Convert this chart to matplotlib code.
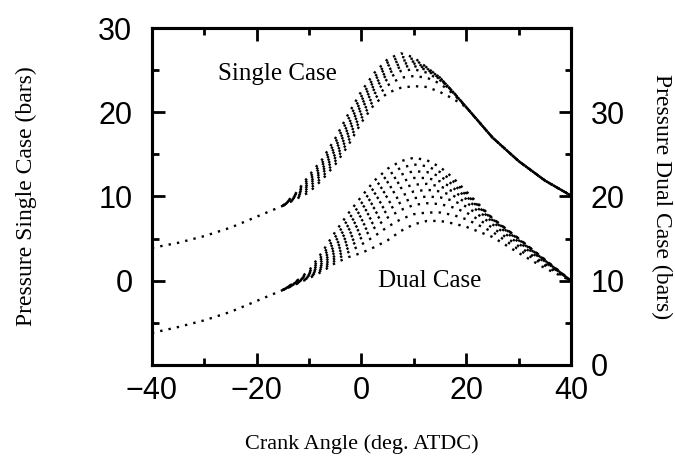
import matplotlib
matplotlib.use("Agg")
import matplotlib.pyplot as plt
from matplotlib.ticker import MultipleLocator

# crank angle grids (deg ATDC)
x_head = [-40, -35, -30, -25, -20, -15]
x_mid = [-12.5, -10, -7.5, -5, -2.5, 0, 2.5, 5, 7.5, 10, 12.5, 15, 17.5]
x_tail = [20, 25, 30, 35, 40]

# single case (left axis), shared compression part and shared expansion part
single_head = [3.9, 4.5, 5.3, 6.3, 7.6, 8.9]
single_tail = [20.6, 17.0, 14.2, 11.9, 10.1]
single_mid = [
    [10.4, 12.5, 14.4, 16.9, 19.8, 22.5, 24.7, 26.3, 27.0, 26.5, 25.3, 24.1, 22.4],
    [10.3, 12.2, 14.0, 16.4, 19.2, 21.9, 24.2, 25.9, 26.6, 26.3, 25.3, 24.1, 22.4],
    [10.2, 11.9, 13.7, 15.9, 18.6, 21.4, 23.8, 25.5, 26.2, 26.0, 25.2, 24.1, 22.4],
    [10.1, 11.6, 13.3, 15.5, 18.1, 20.9, 23.3, 25.0, 25.8, 25.8, 25.1, 24.0, 22.4],
    [10.0, 11.4, 13.0, 15.0, 17.6, 20.4, 22.8, 24.6, 25.4, 25.5, 25.0, 23.9, 22.4],
    [9.9, 11.1, 12.7, 14.6, 17.1, 19.8, 22.2, 24.0, 24.9, 25.1, 24.7, 23.8, 22.3],
    [9.8, 10.8, 12.3, 14.2, 16.6, 19.3, 21.6, 23.2, 24.1, 24.3, 24.1, 23.4, 22.2],
    [9.7, 10.5, 12.0, 13.8, 16.1, 18.8, 21.0, 22.3, 22.9, 23.1, 23.0, 22.4, 21.6],
]

# dual case (right axis)
dual_head = [3.8, 4.5, 5.3, 6.3, 7.6, 8.9]
dual_rest = [
    [9.9, 11.2, 13.4, 15.8, 18.0, 20.0, 21.9, 23.3, 24.2, 24.6, 24.3, 23.5, 22.2, 20.6, 17.4, 15.0, 12.5, 10.0],
    [9.9, 11.0, 13.0, 15.2, 17.3, 19.2, 21.1, 22.5, 23.4, 23.8, 23.6, 22.9, 21.8, 20.4, 17.4, 15.0, 12.5, 10.0],
    [9.8, 10.9, 12.7, 14.7, 16.6, 18.5, 20.3, 21.7, 22.6, 23.0, 22.9, 22.4, 21.4, 20.2, 17.4, 15.0, 12.5, 10.0],
    [9.8, 10.8, 12.4, 14.2, 16.0, 17.8, 19.5, 20.9, 21.8, 22.2, 22.2, 21.8, 21.0, 20.0, 17.3, 14.9, 12.4, 10.0],
    [9.8, 10.7, 12.1, 13.8, 15.4, 17.1, 18.7, 20.1, 21.0, 21.4, 21.5, 21.2, 20.6, 19.7, 17.2, 14.8, 12.4, 10.0],
    [9.7, 10.6, 11.9, 13.4, 14.9, 16.4, 17.9, 19.2, 20.1, 20.6, 20.8, 20.6, 20.1, 19.3, 17.0, 14.6, 12.3, 10.0],
    [9.7, 10.5, 11.7, 13.0, 14.4, 15.7, 17.1, 18.4, 19.3, 19.8, 20.0, 19.9, 19.5, 18.8, 16.7, 14.4, 12.2, 10.0],
    [9.7, 10.4, 11.5, 12.7, 13.9, 15.1, 16.3, 17.5, 18.4, 19.0, 19.2, 19.1, 18.7, 18.1, 16.3, 14.1, 12.0, 10.0],
    [9.6, 10.4, 11.3, 12.4, 13.4, 14.3, 15.3, 16.4, 17.3, 17.9, 18.1, 18.1, 17.8, 17.3, 15.8, 13.7, 11.8, 10.0],
    [9.6, 10.3, 11.1, 12.1, 12.8, 13.3, 14.0, 14.8, 15.9, 16.7, 17.1, 17.1, 16.8, 16.4, 15.2, 13.3, 11.5, 10.0],
]

tick_font = {"family": "Liberation Sans", "size": 22}
lab_font = {"family": "Liberation Serif", "size": 16}
ylab_font = {"family": "Liberation Serif", "size": 17}
note_font = {"family": "Liberation Serif", "size": 18}
LW = 1.7


def dotted(k):
    # each run gets its own dot phase so overlapping runs merge like the scan
    return (k * 0.55, (1.0, 2.6))


fig = plt.figure(figsize=(6.75, 4.63), dpi=100)
ax = fig.add_axes([0.225, 0.2117, 0.621, 0.7278])
ax2 = ax.twinx()

# common compression part, drawn once
ax.plot(x_head, single_head, color="black", lw=LW, linestyle=dotted(0))
ax2.plot(x_head, dual_head, color="black", lw=LW, linestyle=dotted(0))

for k, row in enumerate(single_mid):
    ax.plot(x_head[-1:] + x_mid + x_tail, single_head[-1:] + row + single_tail,
            color="black", lw=LW, linestyle=dotted(k))
for k, row in enumerate(dual_rest):
    ax2.plot(x_head[-1:] + x_mid + x_tail, dual_head[-1:] + row,
             color="black", lw=LW, linestyle=dotted(k))

ax.set_xlim(-40, 40)
ax.set_ylim(-10, 30)
ax2.set_ylim(0, 40)

ax.xaxis.set_major_locator(MultipleLocator(20))
ax.xaxis.set_minor_locator(MultipleLocator(10))
ax.set_yticks([0, 10, 20, 30])
ax.yaxis.set_minor_locator(MultipleLocator(5))
ax2.set_yticks([0, 10, 20, 30])
ax2.yaxis.set_minor_locator(MultipleLocator(5))

ax.tick_params(axis="x", which="both", direction="in", top=True, bottom=True, width=2, pad=8)
ax.tick_params(axis="y", which="both", direction="in", left=True, right=False, width=2, pad=14)
ax.tick_params(which="major", length=9)
ax.tick_params(which="minor", length=5)
ax2.tick_params(axis="y", which="both", direction="in", width=2, pad=14)
ax2.tick_params(which="major", length=9)
ax2.tick_params(which="minor", length=4)

for a in (ax, ax2):
    for lbl in a.get_xticklabels() + a.get_yticklabels():
        lbl.set_fontfamily(tick_font["family"])
        lbl.set_fontsize(tick_font["size"])
    for s in a.spines.values():
        s.set_linewidth(2.2)

ax.set_xlabel("Crank Angle (deg. ATDC)", fontdict=lab_font, labelpad=20)
ax.set_ylabel("Pressure Single Case (bars)", fontdict=ylab_font, labelpad=44)
ax2.set_ylabel("Pressure Dual Case (bars)", fontdict=ylab_font, rotation=-90, labelpad=34)

ax.text(-16.1, 24.5, "Single Case", fontdict=note_font, ha="center", va="center")
ax.text(13.1, 0.0, "Dual Case", fontdict=note_font, ha="center", va="center")

fig.savefig("out.png", dpi=100)
